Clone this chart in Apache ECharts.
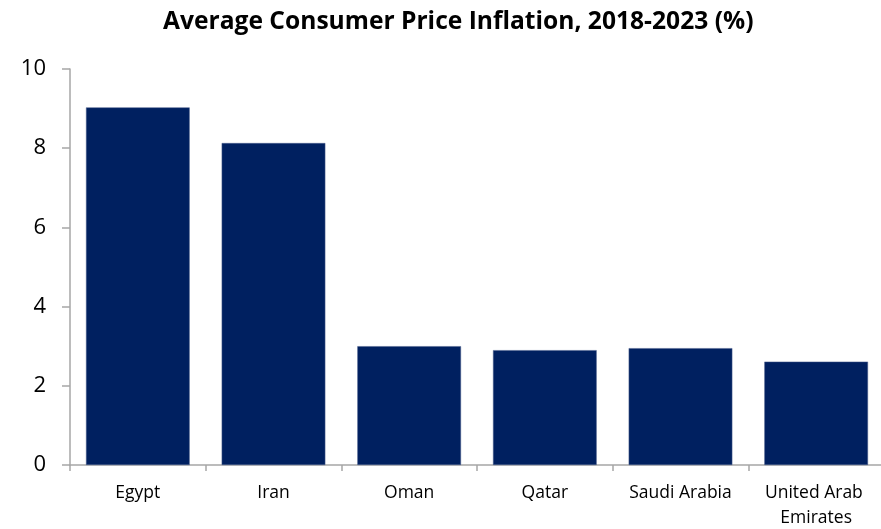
<!DOCTYPE html>
<html>
<head>
<meta charset="utf-8">
<script src="https://cdn.jsdelivr.net/npm/echarts@6/dist/echarts.min.js"></script>
<style>
  html, body { margin: 0; padding: 0; background: #fff; }
  #chart { width: 881px; height: 529px; }
</style>
</head>
<body>
<div id="chart"></div>
<script>
// Average consumer price inflation by country, 2018-2023 (%)
const countries = ['Egypt', 'Iran', 'Oman', 'Qatar', 'Saudi Arabia', 'United Arab Emirates'];
const inflation = [9.03, 8.13, 3.0, 2.9, 2.95, 2.61];
const yTicks = { min: 0, max: 10, interval: 2 };

const chart = echarts.init(document.getElementById('chart'));
const font = 'Open Sans, sans-serif';

chart.setOption({
  animation: false,
  title: {
    text: 'Average Consumer Price Inflation, 2018-2023 (%)',
    left: 158,
    top: 4,
    textStyle: { fontFamily: font, fontWeight: 'bold', fontSize: 24.6, color: '#000' }
  },
  grid: { left: 70, right: -3, top: 69, bottom: 64, containLabel: false, outerBoundsMode: 'none' },
  xAxis: {
    type: 'category',
    data: countries,
    axisLine: { lineStyle: { color: '#a6a6a6', width: 1.5 } },
    axisTick: { show: true, length: 6, alignWithLabel: false, lineStyle: { color: '#a6a6a6', width: 1.5 } },
    axisLabel: {
      interval: 0,
      margin: 16,
      fontFamily: font,
      fontSize: 17.5,
      color: '#000',
      width: 125,
      overflow: 'break',
      lineHeight: 25
    }
  },
  yAxis: {
    type: 'value',
    min: yTicks.min,
    max: yTicks.max,
    interval: yTicks.interval,
    axisLine: { show: true, lineStyle: { color: '#a6a6a6', width: 1.5 } },
    axisTick: { show: true, length: 8, lineStyle: { color: '#a6a6a6', width: 1.5 } },
    splitLine: { show: false },
    axisLabel: { margin: 24, fontFamily: font, fontSize: 22, color: '#000' }
  },
  series: [{
    type: 'bar',
    data: inflation,
    barCategoryGap: '23.6%',
    itemStyle: { color: '#002060', borderColor: '#4a5f8c', borderWidth: 0.5 }
  }]
});
</script>
</body>
</html>
